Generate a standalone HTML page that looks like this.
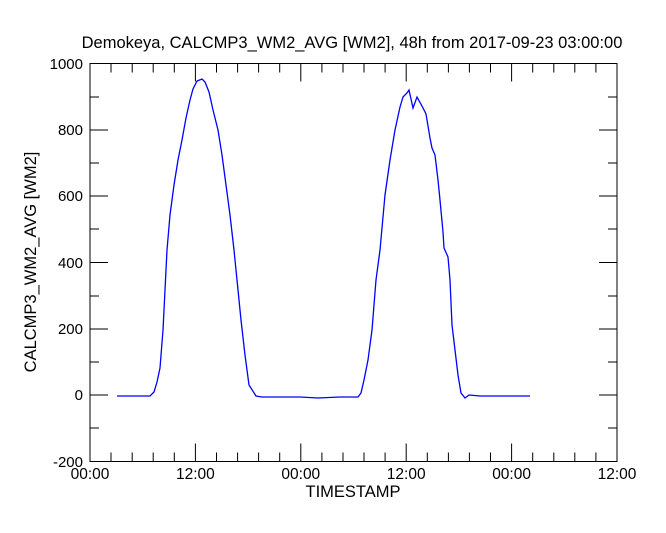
<!DOCTYPE html>
<html><head><style>
html,body{margin:0;padding:0;background:#fff;}
svg{display:block;font-family:"Liberation Sans",sans-serif;}
</style></head><body>
<svg width="666" height="533" viewBox="0 0 666 533" xmlns="http://www.w3.org/2000/svg">
<text x="352" y="48" font-size="16.5" text-anchor="middle">Demokeya, CALCMP3_WM2_AVG [WM2], 48h from  2017-09-23 03:00:00</text>
<rect x="90" y="63.5" width="527" height="398" fill="none" stroke="#000" stroke-width="1"/>
<g stroke="#000" stroke-width="1">
<path d="M90 63.5h18M90 130h18M90 196h18M90 262.5h18M90 329h18M90 395h18M90 461.5h18
M617 63.5h-18M617 130h-18M617 196h-18M617 262.5h-18M617 329h-18M617 395h-18M617 461.5h-18
M90 97h9M90 163h9M90 229h9M90 296h9M90 362h9M90 428h9
M617 97h-9M617 163h-9M617 229h-9M617 296h-9M617 362h-9M617 428h-9"/>
<path d="M195.4 461.5v-18M300.8 461.5v-18M406.2 461.5v-18M511.6 461.5v-18
M195.4 63.5v18M300.8 63.5v18M406.2 63.5v18M511.6 63.5v18
M111 461.5v-9M132.2 461.5v-9M153.2 461.5v-9M174.3 461.5v-9
M216.5 461.5v-9M237.6 461.5v-9M258.6 461.5v-9M279.7 461.5v-9
M321.9 461.5v-9M343 461.5v-9M364 461.5v-9M385.1 461.5v-9
M427.3 461.5v-9M448.4 461.5v-9M469.4 461.5v-9M490.5 461.5v-9
M532.7 461.5v-9M553.8 461.5v-9M574.8 461.5v-9M595.9 461.5v-9
M111 63.5v9M132.2 63.5v9M153.2 63.5v9M174.3 63.5v9
M216.5 63.5v9M237.6 63.5v9M258.6 63.5v9M279.7 63.5v9
M321.9 63.5v9M343 63.5v9M364 63.5v9M385.1 63.5v9
M427.3 63.5v9M448.4 63.5v9M469.4 63.5v9M490.5 63.5v9
M532.7 63.5v9M553.8 63.5v9M574.8 63.5v9M595.9 63.5v9"/>
</g>
<g font-size="15" text-anchor="end">
<text x="83" y="69">1000</text>
<text x="83" y="135">800</text>
<text x="83" y="201">600</text>
<text x="83" y="268">400</text>
<text x="83" y="334">200</text>
<text x="83" y="400">0</text>
<text x="83" y="467">-200</text>
</g>
<g font-size="15.5" text-anchor="middle">
<text x="90" y="479">00:00</text>
<text x="195.4" y="479">12:00</text>
<text x="300.8" y="479">00:00</text>
<text x="406.2" y="479">12:00</text>
<text x="511.6" y="479">00:00</text>
<text x="617" y="479">12:00</text>
<text x="353" y="497" font-size="16.5">TIMESTAMP</text>
</g>
<text transform="translate(36,262) rotate(-90)" font-size="16.5" text-anchor="middle">CALCMP3_WM2_AVG [WM2]</text>
<polyline fill="none" stroke="#0000ff" stroke-width="1.3" points="
117,396 150,396 154,392 157,382 160,368 163,330 165,290 167,250 170,215 174,185 178,160 182,140 186,118 190,100 193,89 197,81 202,79 205,82 209,92 213,110 218,130 222,155 226,185 230,215 234,250 238,290 241,320 245,355 249,385 256,396 262,397 300,397 318,398 340,397 358,397 361,393 364,380 368,360 372,330 376,280 380,250 385,195 390,160 395,130 400,107 403,97 407,93 409,90 413,108 417,97 422,106 426,114 430,138 432,148 435,155 438,180 440,200 443,232 444,248 448,257 450,280 452,325 455,350 458,375 461,393 465,398 469,395 480,396 510,396 530,396"/>
</svg>
</body></html>
